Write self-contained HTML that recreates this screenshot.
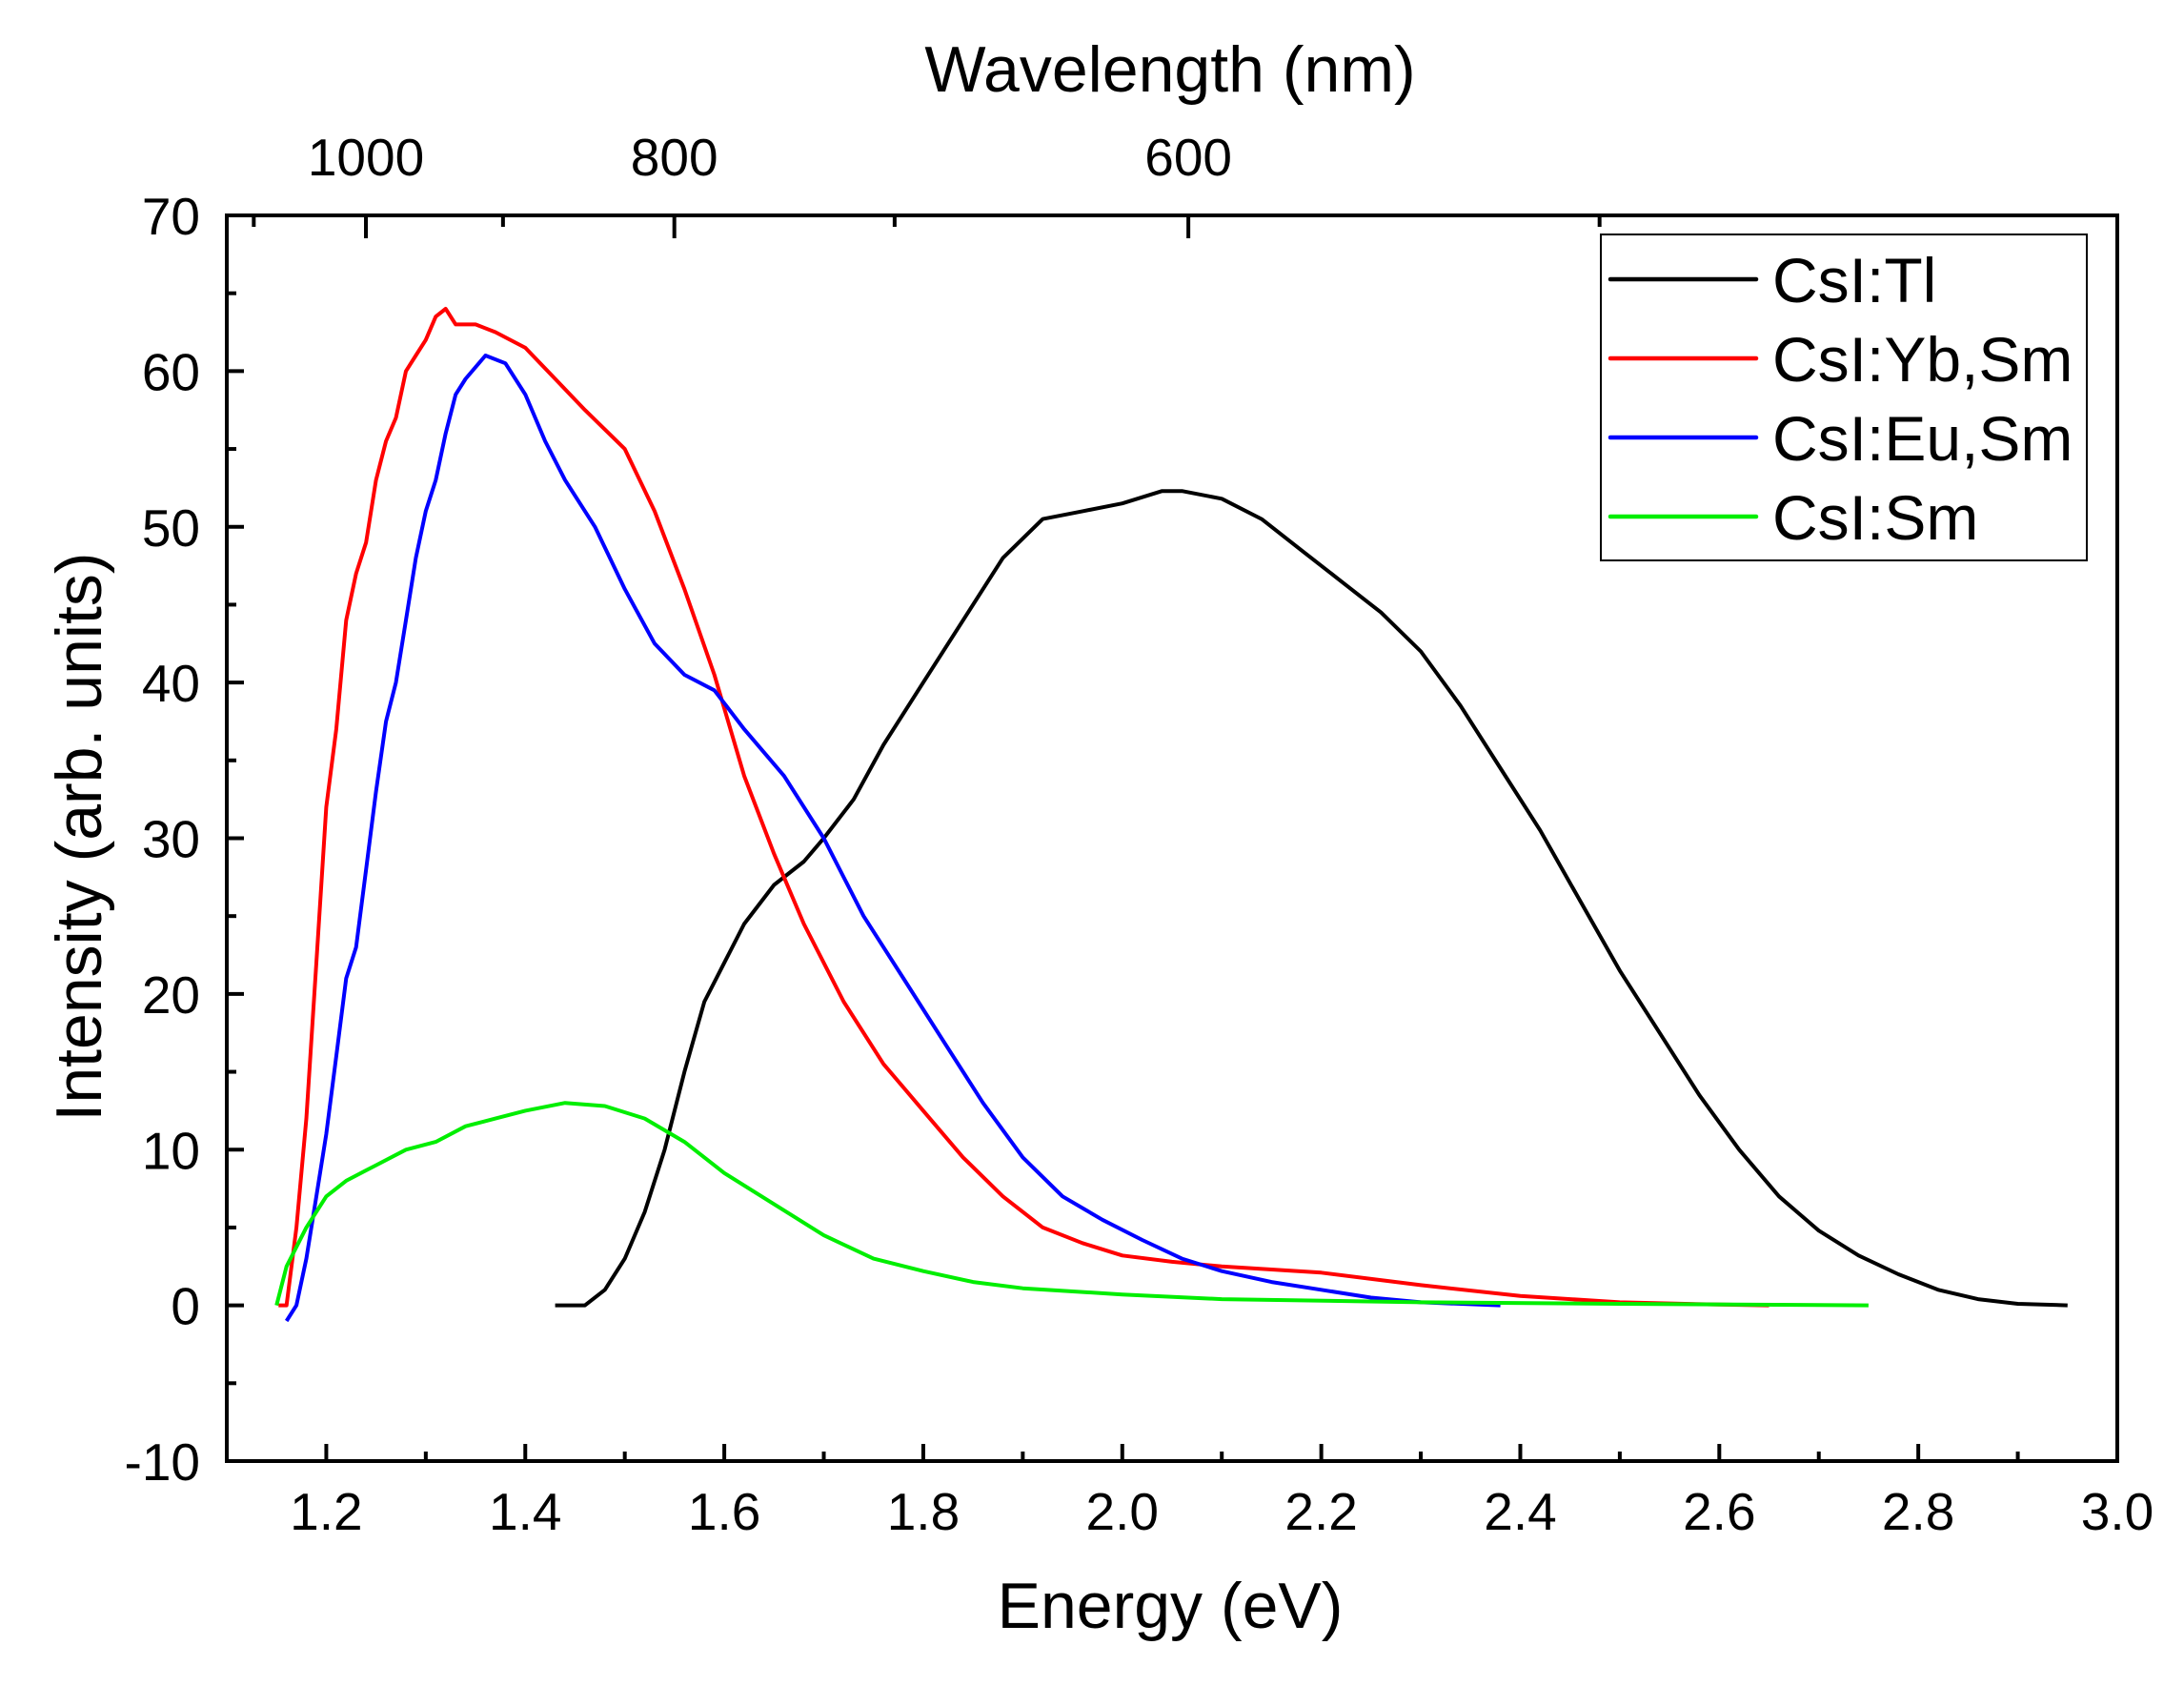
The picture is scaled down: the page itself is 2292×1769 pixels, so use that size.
<!DOCTYPE html>
<html><head><meta charset="utf-8">
<style>
html,body{margin:0;padding:0;background:#fff;}
svg{display:block;font-family:"Liberation Sans",Arial,sans-serif;}
</style></head>
<body>
<svg id="chart" width="2292" height="1769" viewBox="0 0 2292 1769" xmlns="http://www.w3.org/2000/svg">
<rect width="2292" height="1769" fill="#fff"/>
<g id="plot"></g>
</svg>
<script>
const xTicks=[1.2,1.4,1.6,1.8,2.0,2.2,2.4,2.6,2.8,3.0];
const xTickLabels=["1.2","1.4","1.6","1.8","2.0","2.2","2.4","2.6","2.8","3.0"];
const yTicks=[-10,0,10,20,30,40,50,60,70];
const yTickLabels=["-10","0","10","20","30","40","50","60","70"];
const topMajorNm=[1000,800,600];
const topMinorNm=[1100,900,700,500];
const seriesNames=["CsI:Tl","CsI:Yb,Sm","CsI:Eu,Sm","CsI:Sm"];
const seriesColors=["#000000","#ff0000","#0000ff","#00ee00"];
const tlE=[1.43,1.46,1.48,1.50,1.52,1.54,1.56,1.58,1.60,1.62,1.65,1.68,1.70,1.73,1.76,1.80,1.84,1.88,1.92,1.96,2.00,2.04,2.06,2.10,2.14,2.18,2.22,2.26,2.30,2.34,2.38,2.42,2.46,2.50,2.54,2.58,2.62,2.66,2.70,2.74,2.78,2.82,2.86,2.90,2.95];
const tlI=[0,0,1,3,6,10,15,19.5,22,24.5,27,28.5,30,32.5,36,40,44,48,50.5,51,51.5,52.3,52.3,51.8,50.5,48.5,46.5,44.5,42,38.5,34.5,30.5,26,21.5,17.5,13.5,10,7,4.8,3.2,2,1,0.4,0.1,0];
const ybE=[1.152,1.16,1.17,1.18,1.19,1.20,1.21,1.22,1.23,1.24,1.25,1.26,1.27,1.28,1.29,1.30,1.31,1.32,1.33,1.35,1.37,1.40,1.43,1.46,1.50,1.53,1.56,1.59,1.62,1.65,1.68,1.72,1.76,1.80,1.84,1.88,1.92,1.96,2.00,2.05,2.10,2.20,2.30,2.40,2.50,2.60,2.65];
const ybI=[0,0,5,12,22,32,37,44,47,49,53,55.5,57,60,61,62,63.5,64,63,63,62.5,61.5,59.5,57.5,55,51,46,40.5,34,29,24.5,19.5,15.5,12.5,9.5,7,5,4,3.2,2.8,2.5,2.1,1.3,0.6,0.2,0.05,0];
const euE=[1.16,1.17,1.18,1.19,1.20,1.21,1.22,1.23,1.24,1.25,1.26,1.27,1.28,1.29,1.30,1.31,1.32,1.33,1.34,1.36,1.38,1.40,1.42,1.44,1.47,1.50,1.53,1.56,1.59,1.62,1.66,1.70,1.74,1.78,1.82,1.86,1.90,1.94,1.98,2.02,2.06,2.10,2.15,2.20,2.25,2.30,2.38];
const euI=[-1,0,3,7,11,16,21,23,28,33,37.5,40,44,48,51,53,56,58.5,59.5,61,60.5,58.5,55.5,53,50,46,42.5,40.5,39.5,37,34,30,25,21,17,13,9.5,7,5.5,4.2,3,2.2,1.5,1,0.5,0.2,0];
const smE=[1.15,1.16,1.18,1.20,1.22,1.25,1.28,1.31,1.34,1.37,1.40,1.44,1.48,1.52,1.56,1.60,1.65,1.70,1.75,1.80,1.85,1.90,2.0,2.1,2.3,2.5,2.75];
const smI=[0,2.5,5,7,8,9,10,10.5,11.5,12,12.5,13,12.8,12,10.5,8.5,6.5,4.5,3,2.2,1.5,1.1,0.7,0.4,0.2,0.1,0];

const L=238,R=2222,T=226,B=1533,XMIN=1.1,XMAX=3.0,YMIN=-10,YMAX=70;
const sx=v=>L+(v-XMIN)/(XMAX-XMIN)*(R-L);
const sy=v=>T+(YMAX-v)/(YMAX-YMIN)*(B-T);
const NS="http://www.w3.org/2000/svg";
const g=document.getElementById('plot');
function mk(tag,attrs,parent){const e=document.createElementNS(NS,tag);for(const k in attrs)e.setAttribute(k,attrs[k]);(parent||g).appendChild(e);return e;}

const allE=[tlE,ybE,euE,smE],allI=[tlI,ybI,euI,smI],sNames=["series-csi-tl","series-csi-yb-sm","series-csi-eu-sm","series-csi-sm"];
[0,1,2,3].forEach(i=>{
  const d=allE[i].map((e,j)=>(j?'L':'M')+sx(e).toFixed(1)+','+sy(allI[i][j]).toFixed(1)).join('');
  const p=mk('path',{d:d,fill:'none',stroke:seriesColors[i],'stroke-width':4,'stroke-linejoin':'round'});
  
  
});

const frame=mk('rect',{x:L,y:T,width:R-L,height:B-T,fill:'none',stroke:'#000','stroke-width':4});



for(let k=0;k<=19;k++){
  const v=XMIN+k*0.1; if(k===0||k===19) continue;
  const major=(k%2===1);
  const len=major?18:10;
  const t=mk('line',{x1:sx(v),x2:sx(v),y1:B,y2:B-len,stroke:'#000','stroke-width':4});
  
  
}
xTicks.forEach((v,i)=>{
  const t=mk('text',{x:sx(v),y:1605,'font-size':55,'text-anchor':'middle',fill:'#000'});
  t.textContent=xTickLabels[i];
  
  
});
for(let v=-5;v<70;v+=5){
  const major=(v%10===0);
  const len=major?18:10;
  const t=mk('line',{x1:L,x2:L+len,y1:sy(v),y2:sy(v),stroke:'#000','stroke-width':4});
  
  
}
yTicks.forEach((v,i)=>{
  const t=mk('text',{x:210,y:sy(v)+20,'font-size':55,'text-anchor':'end',fill:'#000'});
  t.textContent=yTickLabels[i];
  
  
});
topMajorNm.forEach(nm=>{
  const x=sx(1239.84/nm);
  const t=mk('line',{x1:x,x2:x,y1:T,y2:T+24,stroke:'#000','stroke-width':4});
  
  
  const l=mk('text',{x:x,y:184,'font-size':55,'text-anchor':'middle',fill:'#000'});
  l.textContent=String(nm);
  
  
});
topMinorNm.forEach(nm=>{
  const x=sx(1239.84/nm);
  const t=mk('line',{x1:x,x2:x,y1:T,y2:T+12,stroke:'#000','stroke-width':4});
  
  
});

const xt=mk('text',{x:1228,y:1708,'font-size':68,'text-anchor':'middle',fill:'#000'});
xt.textContent='Energy (eV)';


const tt=mk('text',{x:1228,y:96,'font-size':68,'text-anchor':'middle',fill:'#000'});
tt.textContent='Wavelength (nm)';


const yt=mk('text',{x:0,y:0,'font-size':68,'text-anchor':'middle',fill:'#000',transform:'translate(106,878) rotate(-90)'});
yt.textContent='Intensity (arb. units)';



const lg=mk('g',{});


mk('rect',{x:1680,y:246,width:510,height:342,fill:'#fff',stroke:'#000','stroke-width':2},lg);
seriesNames.forEach((n,i)=>{
  const y=293+i*83;
  const e=mk('g',{},lg);
  
  
  mk('line',{x1:1690,x2:1843,y1:y,y2:y,stroke:seriesColors[i],'stroke-width':4.5,'stroke-linecap':'round'},e);
  const t=mk('text',{x:1860,y:y+24,'font-size':66,fill:'#000'},e);
  t.textContent=n;
});
</script>
</body></html>
